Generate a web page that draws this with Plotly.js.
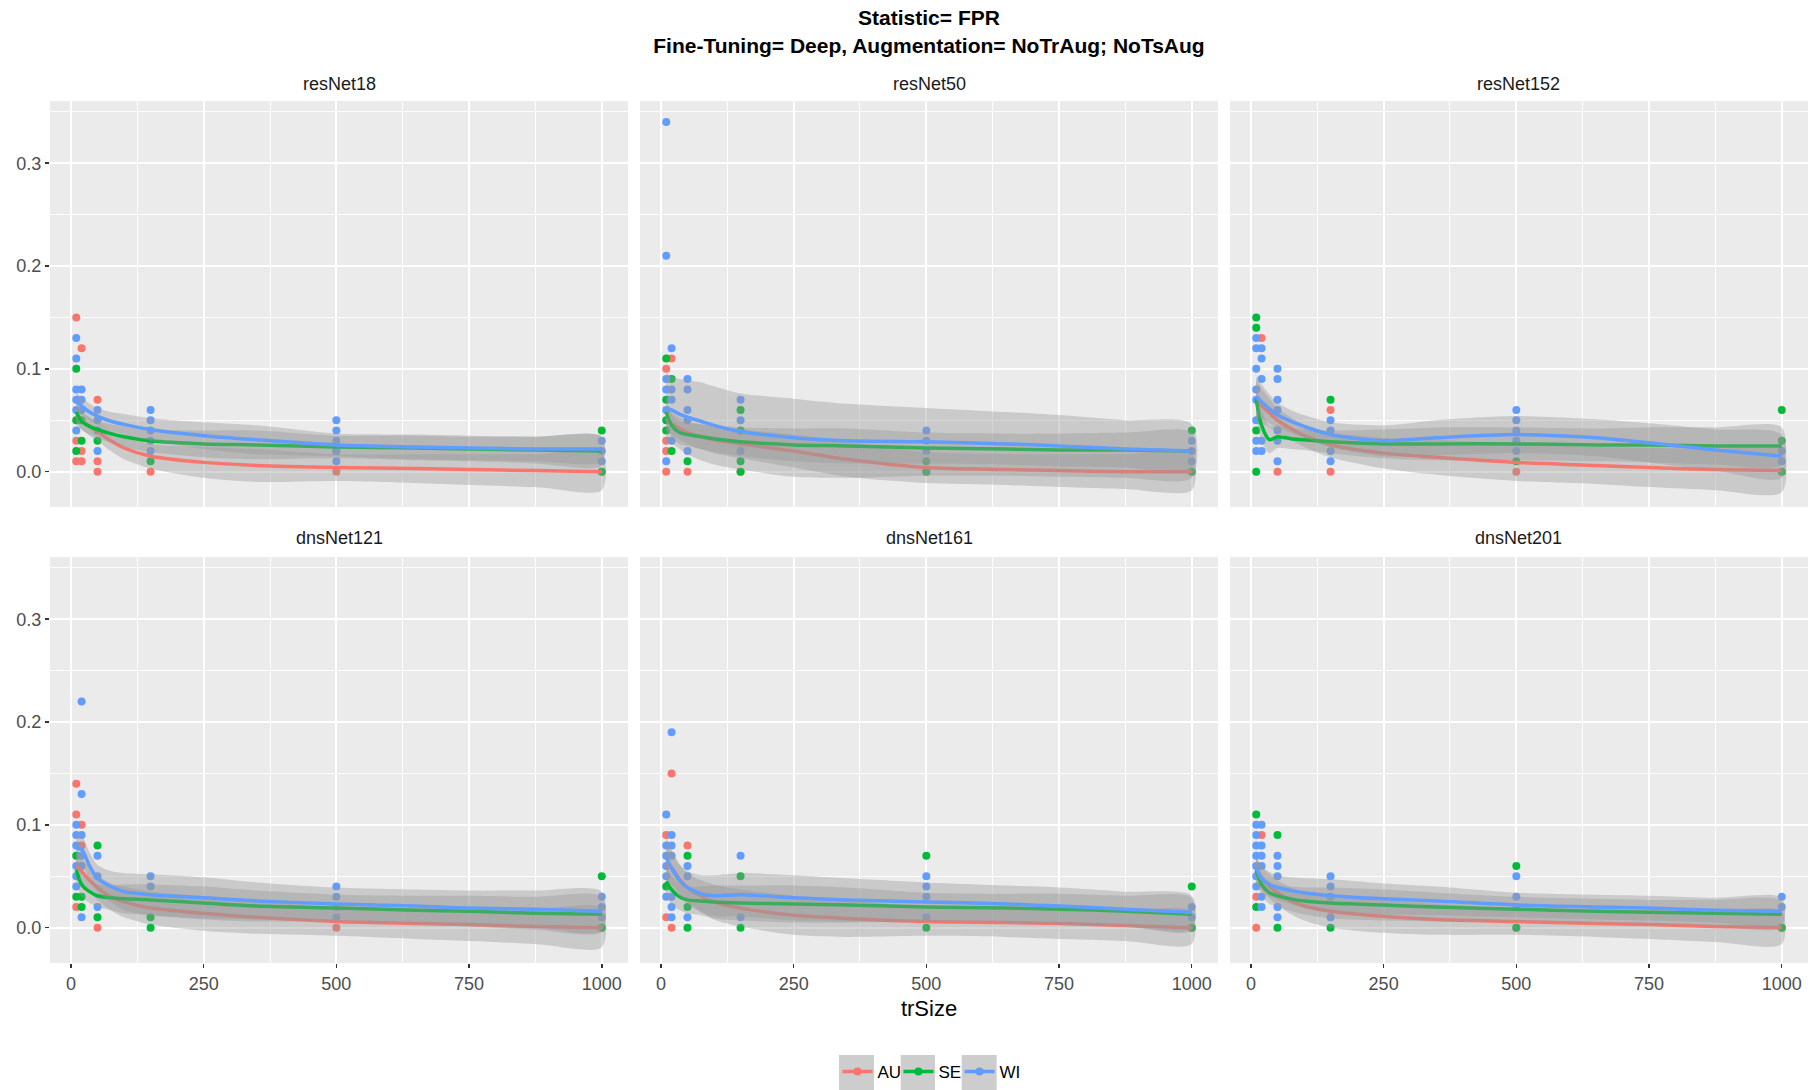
<!DOCTYPE html>
<html>
<head>
<meta charset="utf-8">
<script src="https://cdn.plot.ly/plotly-3.0.1.min.js"></script>
<style>html,body{margin:0;padding:0;background:#fff;}#chart{width:1808px;height:1090px;}</style>
</head>
<body>
<div id="chart"></div>
<script>
// ---------- DATA ----------
const facets = ['resNet18', 'resNet50', 'resNet152', 'dnsNet121', 'dnsNet161', 'dnsNet201'];
const groups = ['AU', 'SE', 'WI'];
const xTicks = [0, 250, 500, 750, 1000];
const yTicks = [0.0, 0.1, 0.2, 0.3];
const yTickLabels = ['0.0', '0.1', '0.2', '0.3'];

// trSize positions at which the smooth curves were read
const fitX = [10, 20, 35, 50, 75, 100, 150, 250, 350, 500, 650, 750, 875, 1000];

// observed points [trSize, FPR]
const resNet18_AU_pts = [[10,0.15],[10,0.03],[10,0.01],[20,0.12],[20,0.02],[20,0.01],[50,0.07],[50,0.01],[50,0.00],[150,0.00],[500,0.00],[1000,0.00]];
const resNet18_SE_pts = [[10,0.10],[10,0.05],[10,0.02],[20,0.05],[20,0.03],[50,0.03],[150,0.01],[500,0.02],[1000,0.04],[1000,0.00]];
const resNet18_WI_pts = [[10,0.13],[10,0.11],[10,0.08],[10,0.07],[10,0.06],[10,0.04],[20,0.08],[20,0.07],[20,0.06],[50,0.06],[50,0.05],[50,0.04],[50,0.02],[150,0.06],[150,0.05],[150,0.04],[150,0.03],[150,0.02],[500,0.05],[500,0.04],[500,0.03],[500,0.02],[500,0.01],[1000,0.03],[1000,0.02],[1000,0.01]];

const resNet50_AU_pts = [[10,0.10],[10,0.03],[10,0.02],[10,0.00],[20,0.11],[50,0.00],[150,0.00],[500,0.00],[1000,0.00]];
const resNet50_SE_pts = [[10,0.11],[10,0.07],[10,0.05],[10,0.04],[20,0.09],[20,0.02],[50,0.01],[150,0.06],[150,0.04],[150,0.01],[150,0.00],[500,0.01],[500,0.00],[1000,0.04],[1000,0.00]];
const resNet50_WI_pts = [[10,0.34],[10,0.21],[10,0.09],[10,0.08],[10,0.06],[10,0.01],[20,0.12],[20,0.08],[20,0.07],[20,0.03],[50,0.09],[50,0.08],[50,0.06],[50,0.05],[50,0.02],[150,0.07],[150,0.05],[150,0.02],[500,0.04],[500,0.03],[500,0.02],[1000,0.03],[1000,0.02],[1000,0.01]];

const resNet152_AU_pts = [[20,0.13],[50,0.00],[150,0.06],[150,0.00],[500,0.00],[1000,0.00]];
const resNet152_SE_pts = [[10,0.15],[10,0.14],[10,0.04],[10,0.00],[150,0.07],[500,0.01],[1000,0.06],[1000,0.03],[1000,0.00]];
const resNet152_WI_pts = [[10,0.13],[10,0.12],[10,0.10],[10,0.08],[10,0.07],[10,0.05],[10,0.03],[10,0.02],[20,0.12],[20,0.11],[20,0.09],[20,0.03],[20,0.02],[50,0.10],[50,0.09],[50,0.07],[50,0.06],[50,0.04],[50,0.03],[50,0.01],[150,0.05],[150,0.04],[150,0.02],[150,0.01],[500,0.06],[500,0.05],[500,0.04],[500,0.03],[500,0.02],[1000,0.02],[1000,0.01]];

const dnsNet121_AU_pts = [[10,0.14],[10,0.11],[10,0.02],[20,0.10],[20,0.08],[50,0.00],[500,0.00],[1000,0.00]];
const dnsNet121_SE_pts = [[10,0.07],[10,0.03],[20,0.03],[20,0.02],[50,0.08],[50,0.01],[150,0.01],[150,0.00],[1000,0.05],[1000,0.00]];
const dnsNet121_WI_pts = [[10,0.10],[10,0.09],[10,0.08],[10,0.06],[10,0.05],[10,0.04],[20,0.22],[20,0.13],[20,0.09],[20,0.07],[20,0.06],[20,0.01],[50,0.07],[50,0.05],[50,0.02],[150,0.05],[150,0.04],[500,0.04],[500,0.03],[500,0.02],[500,0.01],[1000,0.03],[1000,0.02],[1000,0.01]];

const dnsNet161_AU_pts = [[10,0.09],[10,0.01],[20,0.15],[20,0.00],[50,0.08],[1000,0.00]];
const dnsNet161_SE_pts = [[10,0.04],[50,0.07],[50,0.02],[50,0.00],[150,0.05],[150,0.00],[500,0.07],[500,0.00],[1000,0.04],[1000,0.00]];
const dnsNet161_WI_pts = [[10,0.11],[10,0.08],[10,0.07],[10,0.06],[10,0.05],[10,0.03],[20,0.19],[20,0.09],[20,0.08],[20,0.07],[20,0.03],[20,0.02],[20,0.01],[50,0.06],[50,0.05],[50,0.01],[150,0.07],[150,0.01],[500,0.05],[500,0.04],[500,0.03],[500,0.01],[1000,0.02],[1000,0.01]];

const dnsNet201_AU_pts = [[10,0.03],[10,0.00],[20,0.09],[500,0.00],[1000,0.00]];
const dnsNet201_SE_pts = [[10,0.11],[10,0.02],[50,0.09],[50,0.00],[150,0.00],[500,0.06],[500,0.00],[1000,0.00]];
const dnsNet201_WI_pts = [[10,0.10],[10,0.09],[10,0.08],[10,0.07],[10,0.06],[10,0.05],[10,0.04],[20,0.10],[20,0.08],[20,0.07],[20,0.06],[20,0.03],[20,0.02],[50,0.07],[50,0.06],[50,0.05],[50,0.02],[50,0.01],[150,0.05],[150,0.04],[150,0.03],[150,0.01],[500,0.05],[500,0.03],[500,0.02],[1000,0.03],[1000,0.02]];

// smooth (loess) curves read at fitX, and their standard-error half widths
const resNet18_AU_fit = [0.055,0.050,0.044,0.039,0.030,0.023,0.015,0.009,0.006,0.004,0.003,0.002,0.001,0.000];
const resNet18_SE_fit = [0.058,0.049,0.044,0.041,0.037,0.034,0.030,0.027,0.026,0.024,0.023,0.022,0.021,0.020];
const resNet18_WI_fit = [0.068,0.064,0.058,0.054,0.049,0.046,0.041,0.035,0.031,0.026,0.024,0.023,0.022,0.022];
const resNet18_AU_se = [0.010,0.009,0.009,0.009,0.010,0.011,0.012,0.015,0.016,0.013,0.014,0.015,0.016,0.018];
const resNet18_SE_se = [0.009,0.008,0.008,0.008,0.009,0.010,0.011,0.013,0.014,0.011,0.012,0.012,0.013,0.014];
const resNet18_WI_se = [0.009,0.008,0.008,0.008,0.009,0.010,0.011,0.013,0.014,0.011,0.012,0.012,0.012,0.012];

const resNet50_AU_fit = [0.052,0.047,0.042,0.038,0.034,0.031,0.027,0.020,0.012,0.004,0.002,0.001,0.000,0.000];
const resNet50_SE_fit = [0.058,0.045,0.038,0.036,0.034,0.032,0.029,0.026,0.025,0.023,0.022,0.021,0.021,0.020];
const resNet50_WI_fit = [0.062,0.060,0.056,0.053,0.049,0.045,0.039,0.033,0.030,0.029,0.027,0.025,0.022,0.020];
const resNet50_AU_se = [0.012,0.011,0.011,0.011,0.012,0.013,0.014,0.016,0.017,0.015,0.015,0.016,0.017,0.018];
const resNet50_SE_se = [0.012,0.011,0.011,0.011,0.012,0.013,0.014,0.016,0.017,0.015,0.015,0.016,0.017,0.018];
const resNet50_WI_se = [0.034,0.033,0.034,0.036,0.038,0.038,0.037,0.038,0.036,0.033,0.031,0.030,0.028,0.026];

const resNet152_AU_fit = [0.070,0.064,0.057,0.050,0.042,0.035,0.026,0.018,0.014,0.009,0.006,0.004,0.002,0.001];
const resNet152_SE_fit = [0.071,0.045,0.031,0.034,0.032,0.031,0.029,0.027,0.027,0.027,0.026,0.026,0.025,0.025];
const resNet152_WI_fit = [0.073,0.068,0.061,0.055,0.049,0.044,0.036,0.030,0.033,0.036,0.033,0.028,0.021,0.015];
const resNet152_AU_se = [0.020,0.017,0.014,0.012,0.011,0.011,0.012,0.015,0.017,0.018,0.018,0.019,0.020,0.021];
const resNet152_SE_se = [0.018,0.016,0.013,0.011,0.010,0.010,0.011,0.014,0.016,0.016,0.016,0.017,0.018,0.018];
const resNet152_WI_se = [0.020,0.017,0.014,0.012,0.011,0.011,0.012,0.015,0.017,0.018,0.018,0.019,0.020,0.021];

const dnsNet121_AU_fit = [0.061,0.055,0.046,0.039,0.030,0.025,0.019,0.014,0.010,0.006,0.004,0.003,0.001,0.000];
const dnsNet121_SE_fit = [0.056,0.042,0.035,0.031,0.029,0.028,0.027,0.024,0.021,0.019,0.017,0.016,0.014,0.013];
const dnsNet121_WI_fit = [0.077,0.076,0.060,0.048,0.040,0.035,0.032,0.029,0.026,0.023,0.021,0.019,0.018,0.016];
const dnsNet121_AU_se = [0.014,0.013,0.012,0.012,0.013,0.015,0.016,0.017,0.016,0.014,0.015,0.016,0.017,0.019];
const dnsNet121_SE_se = [0.013,0.012,0.011,0.011,0.012,0.014,0.015,0.016,0.015,0.013,0.014,0.015,0.016,0.017];
const dnsNet121_WI_se = [0.015,0.014,0.013,0.013,0.015,0.018,0.020,0.020,0.018,0.016,0.016,0.017,0.018,0.019];

const dnsNet161_AU_fit = [0.062,0.058,0.047,0.039,0.031,0.025,0.019,0.012,0.009,0.006,0.005,0.004,0.002,0.000];
const dnsNet161_SE_fit = [0.045,0.037,0.030,0.027,0.026,0.025,0.024,0.023,0.022,0.020,0.019,0.018,0.016,0.013];
const dnsNet161_WI_fit = [0.068,0.058,0.046,0.039,0.033,0.031,0.032,0.029,0.027,0.025,0.023,0.021,0.018,0.015];
const dnsNet161_AU_se = [0.018,0.016,0.014,0.014,0.015,0.017,0.018,0.019,0.018,0.014,0.014,0.015,0.015,0.016];
const dnsNet161_SE_se = [0.016,0.014,0.013,0.013,0.014,0.016,0.017,0.018,0.017,0.014,0.014,0.015,0.015,0.016];
const dnsNet161_WI_se = [0.020,0.018,0.016,0.016,0.018,0.020,0.021,0.022,0.021,0.019,0.018,0.018,0.017,0.016];

const dnsNet201_AU_fit = [0.055,0.048,0.040,0.034,0.026,0.021,0.016,0.011,0.008,0.006,0.004,0.003,0.001,0.000];
const dnsNet201_SE_fit = [0.056,0.042,0.034,0.031,0.028,0.026,0.024,0.022,0.020,0.018,0.016,0.015,0.014,0.013];
const dnsNet201_WI_fit = [0.058,0.048,0.042,0.039,0.036,0.034,0.031,0.028,0.026,0.022,0.020,0.019,0.017,0.016];
const dnsNet201_AU_se = [0.013,0.012,0.012,0.012,0.013,0.014,0.016,0.016,0.015,0.013,0.013,0.014,0.015,0.016];
const dnsNet201_SE_se = [0.012,0.011,0.011,0.011,0.012,0.013,0.015,0.015,0.014,0.012,0.012,0.012,0.013,0.013];
const dnsNet201_WI_se = [0.013,0.012,0.012,0.012,0.013,0.014,0.016,0.015,0.014,0.012,0.012,0.012,0.012,0.013];

// ---------- ASSEMBLY ----------
const DATA = {
  resNet18:  {AU:[resNet18_AU_pts, resNet18_AU_fit, resNet18_AU_se],   SE:[resNet18_SE_pts, resNet18_SE_fit, resNet18_SE_se],   WI:[resNet18_WI_pts, resNet18_WI_fit, resNet18_WI_se]},
  resNet50:  {AU:[resNet50_AU_pts, resNet50_AU_fit, resNet50_AU_se],   SE:[resNet50_SE_pts, resNet50_SE_fit, resNet50_SE_se],   WI:[resNet50_WI_pts, resNet50_WI_fit, resNet50_WI_se]},
  resNet152: {AU:[resNet152_AU_pts, resNet152_AU_fit, resNet152_AU_se], SE:[resNet152_SE_pts, resNet152_SE_fit, resNet152_SE_se], WI:[resNet152_WI_pts, resNet152_WI_fit, resNet152_WI_se]},
  dnsNet121: {AU:[dnsNet121_AU_pts, dnsNet121_AU_fit, dnsNet121_AU_se], SE:[dnsNet121_SE_pts, dnsNet121_SE_fit, dnsNet121_SE_se], WI:[dnsNet121_WI_pts, dnsNet121_WI_fit, dnsNet121_WI_se]},
  dnsNet161: {AU:[dnsNet161_AU_pts, dnsNet161_AU_fit, dnsNet161_AU_se], SE:[dnsNet161_SE_pts, dnsNet161_SE_fit, dnsNet161_SE_se], WI:[dnsNet161_WI_pts, dnsNet161_WI_fit, dnsNet161_WI_se]},
  dnsNet201: {AU:[dnsNet201_AU_pts, dnsNet201_AU_fit, dnsNet201_AU_se], SE:[dnsNet201_SE_pts, dnsNet201_SE_fit, dnsNet201_SE_se], WI:[dnsNet201_WI_pts, dnsNet201_WI_fit, dnsNet201_WI_se]}
};

const COLORS = {AU: '#F8766D', SE: '#00BA38', WI: '#619CFF'};
const FONT = 'Liberation Sans, Arial, Helvetica, sans-serif';
const RIBBON = 'rgba(153,153,153,0.4)';

const colDomains = [[0, 0.3288], [0.3356, 0.6644], [0.6712, 1]];
const rowDomains = [[0.529, 1], [0, 0.471]];
const xRange = [-39.5, 1049.5];
const yRange = [-0.0344, 0.3605];

// grey key boxes behind legend glyphs (paper x ranges)
const legendKeyBoxes = [[0.4488, 0.4687], [0.4839, 0.5034], [0.5186, 0.5385]];

const traces = [];
const layout = {
  width: 1808, height: 1090,
  paper_bgcolor: '#FFFFFF', plot_bgcolor: '#EBEBEB',
  margin: {l: 50, r: 0, t: 101, b: 127},
  font: {family: FONT, color: '#4D4D4D'},
  title: {
    text: '<b>Statistic= FPR</b><br><b>Fine-Tuning= Deep, Augmentation= NoTrAug; NoTsAug</b>',
    font: {family: FONT, size: 21, color: '#000000'},
    x: 0.5, xref: 'paper', xanchor: 'center',
    y: 0.9767, yref: 'container', yanchor: 'top'
  },
  showlegend: true,
  legend: {
    orientation: 'h', x: 0.5, xanchor: 'center', y: -0.106, yanchor: 'top',
    font: {family: FONT, size: 17, color: '#000000'},
    itemwidth: 30, entrywidth: 16, entrywidthmode: 'pixels',
    bgcolor: 'rgba(0,0,0,0)', traceorder: 'normal', itemclick: false
  },
  annotations: [],
  shapes: legendKeyBoxes.map(b => ({
    type: 'rect', xref: 'paper', yref: 'paper',
    x0: b[0], x1: b[1], y0: -0.1473, y1: -0.1067,
    fillcolor: '#CDCDCD', line: {width: 0}, layer: 'below'
  }))
};

facets.forEach((name, i) => {
  const suf = i === 0 ? '' : String(i + 1);
  const row = Math.floor(i / 3), col = i % 3;
  const xa = 'x' + suf, ya = 'y' + suf;

  layout['xaxis' + suf] = {
    domain: colDomains[col], anchor: ya, range: xRange,
    tickvals: xTicks, ticktext: xTicks.map(String),
    showticklabels: row === 1, ticks: row === 1 ? 'outside' : '',
    ticklen: 4, tickwidth: 1.5, tickcolor: '#333333',
    tickfont: {family: FONT, size: 18, color: '#4D4D4D'},
    showgrid: true, gridcolor: '#FFFFFF', gridwidth: 2,
    minor: {dtick: 125, tick0: 0, showgrid: true, gridcolor: '#FFFFFF', gridwidth: 0.9},
    zeroline: false, showline: false, fixedrange: true
  };
  layout['yaxis' + suf] = {
    domain: rowDomains[row], anchor: xa, range: yRange,
    tickvals: yTicks, ticktext: yTickLabels,
    showticklabels: col === 0, ticks: col === 0 ? 'outside' : '',
    ticklen: 4, tickwidth: 1.5, tickcolor: '#333333',
    tickfont: {family: FONT, size: 18, color: '#4D4D4D'},
    showgrid: true, gridcolor: '#FFFFFF', gridwidth: 2,
    minor: {dtick: 0.05, tick0: 0, showgrid: true, gridcolor: '#FFFFFF', gridwidth: 0.9},
    zeroline: false, showline: false, fixedrange: true
  };

  // facet strip label
  layout.annotations.push({
    text: name, xref: 'paper', yref: 'paper',
    x: (colDomains[col][0] + colDomains[col][1]) / 2,
    y: row === 0 ? 1.0197 : 0.493, xanchor: 'center', yanchor: 'middle',
    showarrow: false, font: {family: FONT, size: 18, color: '#1A1A1A'}
  });

  // points first (they sit under the smooths)
  groups.forEach(g => {
    const pts = DATA[name][g][0];
    traces.push({
      type: 'scatter', mode: 'markers', xaxis: xa, yaxis: ya,
      x: pts.map(p => p[0]), y: pts.map(p => p[1]),
      marker: {color: COLORS[g], size: 8, line: {width: 0}},
      showlegend: false, hoverinfo: 'x+y', name: g
    });
  });

  // ribbon + line per group
  groups.forEach(g => {
    const fit = DATA[name][g][1], se = DATA[name][g][2];
    const upper = fit.map((v, k) => v + se[k]);
    const lower = fit.map((v, k) => v - se[k]);
    traces.push({
      type: 'scatter', mode: 'lines', xaxis: xa, yaxis: ya,
      x: fitX.concat(fitX.slice().reverse()),
      y: upper.concat(lower.slice().reverse()),
      fill: 'toself', fillcolor: RIBBON,
      line: {width: 0, shape: 'spline', smoothing: 0.8},
      showlegend: false, hoverinfo: 'skip'
    });
    traces.push({
      type: 'scatter', mode: 'lines', xaxis: xa, yaxis: ya,
      x: fitX, y: fit,
      line: {color: COLORS[g], width: 3.5, shape: 'spline', smoothing: 0.8},
      showlegend: false, name: g
    });
  });
});

// legend entries
groups.forEach(g => {
  traces.push({
    type: 'scatter', mode: 'lines+markers', x: [null], y: [null],
    xaxis: 'x', yaxis: 'y', name: g,
    line: {color: COLORS[g], width: 3.5},
    marker: {color: COLORS[g], size: 8},
    showlegend: true
  });
});

// x axis title on bottom middle facet
layout.xaxis5.title = {text: 'trSize', font: {family: FONT, size: 22, color: '#000000'}, standoff: 8};

Plotly.newPlot('chart', traces, layout, {displayModeBar: false, staticPlot: true});
</script>
</body>
</html>
